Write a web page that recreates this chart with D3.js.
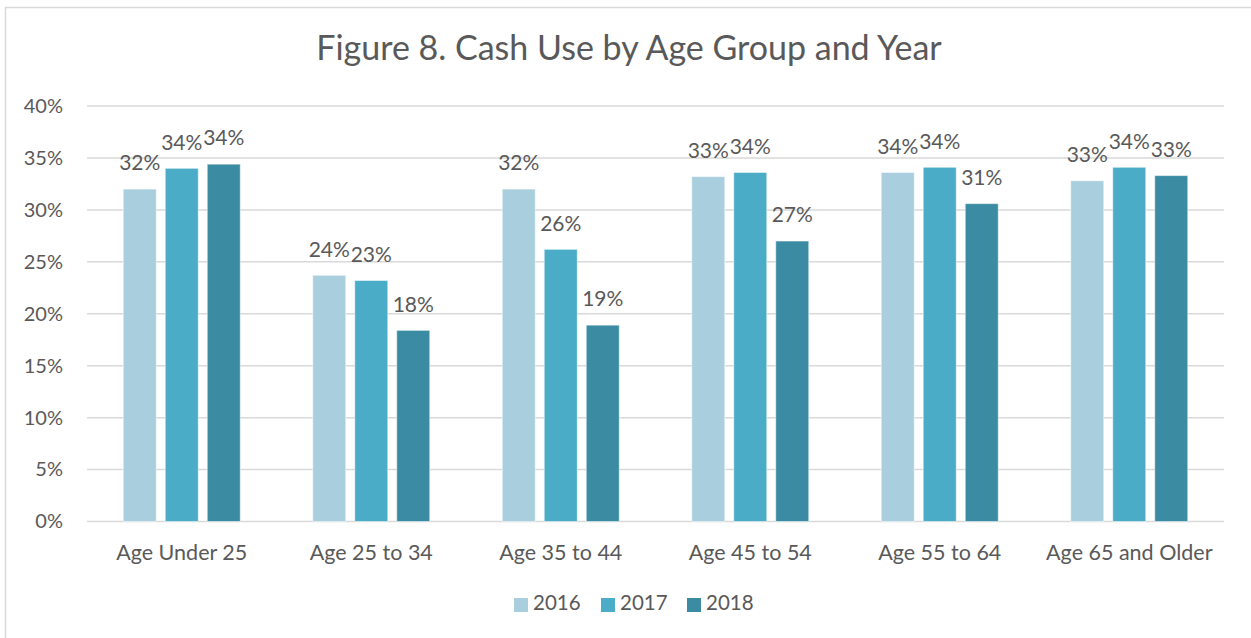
<!DOCTYPE html>
<html>
<head>
<meta charset="utf-8">
<script src="https://cdn.jsdelivr.net/npm/d3@7"></script>
<style>
  html, body { margin: 0; padding: 0; background: #fff; }
  svg { display: block; }
  text { font-family: Lato, "Open Sans", sans-serif; fill: #595959; }
</style>
</head>
<body>
<svg id="chart" width="1251" height="638"></svg>
<script>
const categories = ["Age Under 25", "Age 25 to 34", "Age 35 to 44", "Age 45 to 54", "Age 55 to 64", "Age 65 and Older"];
const years = ["2016", "2017", "2018"];
const values2016 = [0.320, 0.237, 0.320, 0.332, 0.336, 0.328];
const values2017 = [0.340, 0.232, 0.262, 0.336, 0.341, 0.341];
const values2018 = [0.344, 0.184, 0.189, 0.270, 0.306, 0.333];
const yTicks = [0, 0.05, 0.10, 0.15, 0.20, 0.25, 0.30, 0.35, 0.40];
const colors = ["#a9cedd", "#4aacc6", "#3b8ca3"];
const title = "Figure 8. Cash Use by Age Group and Year";

const series = [values2016, values2017, values2018];
const svg = d3.select("#chart");

// chart frame
svg.append("rect").attr("x", 5.5).attr("y", 7.5).attr("width", 1300).attr("height", 700)
  .attr("fill", "none").attr("stroke", "#d9d9d9").attr("stroke-width", 1.5);

const plot = { left: 87, right: 1224, top: 106, bottom: 521.5 };

const y = d3.scaleLinear().domain([0, 0.40]).range([plot.bottom, plot.top]);
const x0 = d3.scaleBand().domain(categories).range([plot.left, plot.right]).padding(0);
const x1 = d3.scaleBand().domain(years)
  .range([x0.bandwidth() / 2 - 63, x0.bandwidth() / 2 + 63])
  .paddingInner(0.214).paddingOuter(0.107);

// title
svg.append("text").attr("x", 629).attr("y", 51)
  .attr("text-anchor", "middle").attr("dominant-baseline", "middle")
  .style("font-size", "34px").text(title);

// gridlines
svg.append("g").selectAll("line").data(yTicks).join("line")
  .attr("x1", plot.left).attr("x2", plot.right)
  .attr("y1", d => y(d)).attr("y2", d => y(d))
  .attr("stroke", "#d9d9d9").attr("stroke-width", 1.5);

// y axis
const yAxis = d3.axisLeft(y).tickValues(yTicks).tickFormat(d3.format(".0%")).tickSize(0).tickPadding(24);
const gy = svg.append("g").attr("transform", `translate(${plot.left},0)`).call(yAxis);
gy.select(".domain").remove();
gy.selectAll("text").style("font-size", "20px").attr("fill", "#595959")
  .style("font-family", "Lato, 'Open Sans', sans-serif");

// x axis
const xAxis = d3.axisBottom(x0).tickSize(0).tickPadding(23);
const gx = svg.append("g").attr("transform", `translate(0,${plot.bottom})`).call(xAxis);
gx.select(".domain").remove();
gx.selectAll("text").style("font-size", "21.5px").attr("fill", "#595959")
  .style("font-family", "Lato, 'Open Sans', sans-serif");

// bars
const groups = svg.append("g").selectAll("g").data(categories).join("g")
  .attr("transform", d => `translate(${x0(d)},0)`);

const fmt = d3.format(".0%");
groups.each(function(cat, ci) {
  const g = d3.select(this);
  const data = years.map((yr, si) => ({ yr, si, v: series[si][ci] }));
  g.selectAll("rect").data(data).join("rect")
    .attr("x", d => x1(d.yr)).attr("width", x1.bandwidth())
    .attr("y", d => y(d.v)).attr("height", d => y(0) - y(d.v))
    .attr("fill", d => colors[d.si])
    .attr("stroke", "#ffffff").attr("stroke-opacity", 0.5).attr("stroke-width", 1);
  g.selectAll("text.lbl").data(data).join("text").attr("class", "lbl")
    .attr("x", d => x1(d.yr) + x1.bandwidth() / 2)
    .attr("y", d => y(d.v) - 24)
    .attr("text-anchor", "middle").attr("dominant-baseline", "middle")
    .style("font-size", "21px").attr("fill", "#404040")
    .text(d => fmt(d.v));
});

// legend
const legendX = [514, 601, 687];
const lg = svg.append("g").selectAll("g").data(years).join("g")
  .attr("transform", (d, i) => `translate(${legendX[i]},605)`);
lg.append("rect").attr("x", 0).attr("y", -7).attr("width", 14).attr("height", 14)
  .attr("fill", (d, i) => colors[i]);
lg.append("text").attr("x", 19).attr("y", 0).attr("dominant-baseline", "middle")
  .style("font-size", "20.5px").text(d => d);
</script>
</body>
</html>
